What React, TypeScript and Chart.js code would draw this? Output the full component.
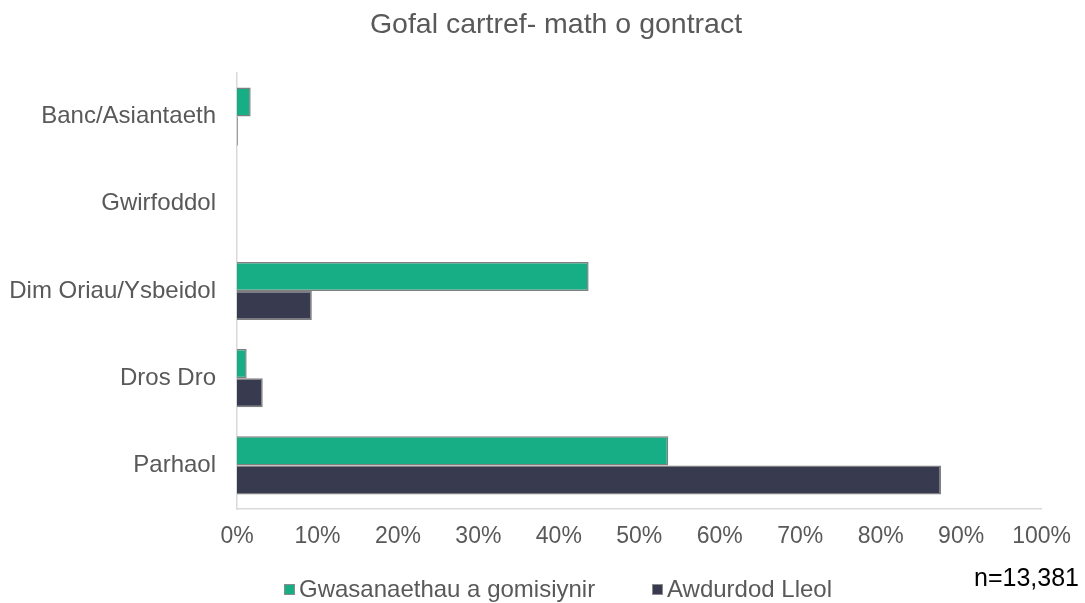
import React, { useEffect, useRef } from "react";
import { Chart, registerables } from "chart.js";

Chart.register(...registerables);

const categories = ["Banc/Asiantaeth", "Gwirfoddol", "Dim Oriau/Ysbeidol", "Dros Dro", "Parhaol"];
const commissioned = [1.7, 0, 43.7, 1.2, 53.6];
const localAuthority = [0.1, 0, 9.3, 3.2, 87.5];
const seriesNames = ["Gwasanaethau a gomisiynir", "Awdurdod Lleol"];
const seriesColors = ["#17ae85", "#383a4f"];
const titleText = "Gofal cartref- math o gontract";
const noteText = "n=13,381";

const FONT = "'Liberation Sans', Arial, sans-serif";

const overlayPlugin = {
  id: "overlay",
  afterDraw(chart: any) {
    const ctx = chart.ctx;
    ctx.save();
    // title
    ctx.font = `28.5px ${FONT}`;
    ctx.fillStyle = "#595959";
    ctx.textAlign = "center";
    ctx.textBaseline = "alphabetic";
    ctx.fillText(titleText, 556, 33);
    // legend
    ctx.font = `24px ${FONT}`;
    ctx.textAlign = "left";
    const items = [
      { x: 284, label: seriesNames[0], color: seriesColors[0] },
      { x: 652, label: seriesNames[1], color: seriesColors[1] },
    ];
    items.forEach((it) => {
      ctx.fillStyle = it.color;
      ctx.fillRect(it.x, 584, 10, 10);
      ctx.strokeStyle = "#8c8c8c";
      ctx.lineWidth = 1;
      ctx.strokeRect(it.x + 0.5, 584.5, 10, 10);
      ctx.fillStyle = "#595959";
      ctx.fillText(it.label, it.x + 15, 597);
    });
    // note
    ctx.font = `25px ${FONT}`;
    ctx.fillStyle = "#000000";
    ctx.textAlign = "right";
    ctx.fillText(noteText, 1079, 586);
    ctx.restore();
  },
};

export default function App() {
  const canvasRef = useRef<HTMLCanvasElement | null>(null);

  useEffect(() => {
    if (!canvasRef.current) return;
    const chart = new Chart(canvasRef.current, {
      type: "bar",
      data: {
        labels: categories,
        datasets: [
          {
            label: seriesNames[0],
            data: commissioned,
            backgroundColor: seriesColors[0],
            borderColor: "#7f7f7f",
            borderWidth: 1.5,
            categoryPercentage: 0.667,
            barPercentage: 1.0,
          },
          {
            label: seriesNames[1],
            data: localAuthority,
            backgroundColor: seriesColors[1],
            borderColor: "#7f7f7f",
            borderWidth: 1.5,
            categoryPercentage: 0.667,
            barPercentage: 1.0,
          },
        ],
      },
      options: {
        indexAxis: "y",
        animation: false,
        responsive: false,
        maintainAspectRatio: false,
        layout: { padding: { top: 73, right: 39, bottom: 0, left: 0 } },
        plugins: {
          legend: { display: false },
          title: { display: false },
          tooltip: { enabled: false },
        },
        scales: {
          x: {
            min: 0,
            max: 100,
            ticks: {
              stepSize: 10,
              callback: (v: any) => `${v}%`,
              color: "#595959",
              font: { family: FONT, size: 23 },
              padding: 14,
              maxRotation: 0,
              autoSkip: false,
            },
            grid: { display: false, drawTicks: false },
            border: { display: true, color: "#d9d9d9", width: 1.5 },
            afterFit: (scale: any) => {
              scale.height = 94;
            },
          },
          y: {
            ticks: {
              color: "#595959",
              font: { family: FONT, size: 24 },
              padding: 21,
            },
            grid: { display: false, drawTicks: false },
            border: { display: true, color: "#d9d9d9", width: 1.5 },
            afterFit: (scale: any) => {
              scale.width = 237;
            },
          },
        },
      },
      plugins: [overlayPlugin],
    });
    return () => chart.destroy();
  }, []);

  return (
    <div style={{ position: "fixed", left: 0, top: 0, width: 1085, height: 603, background: "#ffffff" }}>
      <canvas ref={canvasRef} width={1085} height={603} style={{ display: "block" }} />
    </div>
  );
}
